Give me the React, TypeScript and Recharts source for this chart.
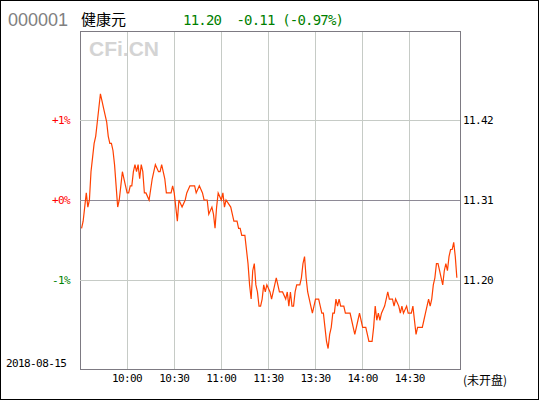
import { LineChart, Line, XAxis, YAxis, CartesianGrid, ReferenceLine, ReferenceArea } from 'recharts'

const prevClose = 11.31

// minute index from 9:30 (lunch break removed) and last price
const minutes = [
  1, 2, 3, 4, 5, 6, 7, 8, 9, 10, 11, 12, 13, 14, 15, 16, 17, 18, 19, 20,
  21, 22, 23, 24, 25, 26, 27, 28, 29, 30, 31, 32, 33, 34, 35, 36, 37, 38, 39, 40,
  41, 42, 44, 46, 47, 48, 50, 51, 52, 54, 55, 58, 59, 60, 61, 62, 63, 65, 67, 68,
  70, 73, 74, 76, 78, 79, 81, 82, 84, 85, 86, 87, 88, 90, 91, 92, 93, 96, 97, 98,
  100, 101, 102, 103, 105, 107, 108, 109, 110, 111, 112, 113, 114, 115, 116, 117, 118, 119, 121, 122,
  124, 125, 126, 127, 129, 131, 132, 133, 134, 135, 136, 137, 138, 140, 141, 142, 143, 144, 145, 147,
  148, 149, 150, 152, 153, 154, 155, 156, 157, 158, 159, 160, 161, 162, 163, 164, 165, 166, 168, 169,
  170, 172, 173, 174, 175, 176, 177, 178, 179, 180, 182, 183, 184, 186, 187, 188, 189, 190, 191, 192,
  194, 195, 196, 197, 199, 200, 201, 203, 204, 205, 206, 208, 209, 211, 212, 213, 214, 215, 218, 219,
  220, 221, 222, 223, 224, 225, 226, 227, 228, 229, 230, 231, 232, 233, 234, 235, 236, 237, 238, 239,
  240,
]
const prices = [
  11.27, 11.28, 11.30, 11.32, 11.30, 11.31, 11.35, 11.37, 11.39, 11.40, 11.42, 11.44, 11.46, 11.45, 11.44, 11.43, 11.42, 11.40, 11.39, 11.39,
  11.38, 11.36, 11.33, 11.30, 11.31, 11.33, 11.35, 11.34, 11.33, 11.32, 11.32, 11.33, 11.33, 11.35, 11.36, 11.35, 11.36, 11.34, 11.36, 11.35,
  11.32, 11.32, 11.31, 11.34, 11.35, 11.36, 11.35, 11.35, 11.36, 11.34, 11.32, 11.32, 11.33, 11.32, 11.30, 11.28, 11.31, 11.30, 11.31, 11.32,
  11.33, 11.33, 11.32, 11.33, 11.32, 11.31, 11.31, 11.29, 11.30, 11.29, 11.27, 11.30, 11.32, 11.31, 11.32, 11.30, 11.31, 11.30, 11.29, 11.28,
  11.28, 11.27, 11.27, 11.26, 11.26, 11.22, 11.19, 11.17, 11.21, 11.22, 11.19, 11.18, 11.16, 11.16, 11.17, 11.19, 11.18, 11.19, 11.18, 11.17,
  11.19, 11.20, 11.19, 11.18, 11.18, 11.17, 11.18, 11.16, 11.18, 11.16, 11.16, 11.18, 11.19, 11.19, 11.20, 11.22, 11.23, 11.20, 11.18, 11.16,
  11.15, 11.16, 11.17, 11.17, 11.16, 11.15, 11.15, 11.13, 11.11, 11.10, 11.12, 11.13, 11.15, 11.15, 11.17, 11.16, 11.17, 11.16, 11.16, 11.15,
  11.15, 11.15, 11.14, 11.13, 11.12, 11.13, 11.14, 11.15, 11.14, 11.13, 11.13, 11.12, 11.11, 11.11, 11.13, 11.16, 11.14, 11.15, 11.14, 11.15,
  11.16, 11.17, 11.18, 11.17, 11.17, 11.16, 11.17, 11.16, 11.15, 11.16, 11.15, 11.16, 11.15, 11.15, 11.16, 11.14, 11.12, 11.13, 11.13, 11.14,
  11.15, 11.16, 11.17, 11.16, 11.17, 11.19, 11.20, 11.22, 11.22, 11.21, 11.20, 11.19, 11.21, 11.22, 11.21, 11.23, 11.24, 11.24, 11.25, 11.23,
  11.20,
]

const timeTicks = [30, 60, 90, 120, 150, 180, 210]
const timeLabels = ['10:00', '10:30', '11:00', '11:30', '13:30', '14:00', '14:30']
const pctTicks = [-1, 0, 1]
const pctLabels = ['-1%', '+0%', '+1%']

const data = minutes.map((m, i) => ({ m, pct: (prices[i] / prevClose - 1) * 100 }))
const yMax = 2.1125
const mono = 'DejaVu Sans Mono, monospace'
const tickFont = { fontSize: 11, fontFamily: mono, letterSpacing: -0.6 }

function PctTick({ x, y, payload }: any) {
  const i = pctTicks.indexOf(payload.value)
  return (
    <text x={x} y={y} dy="0.355em" textAnchor="end" {...tickFont}
      fill={payload.value < 0 ? '#008000' : '#ff0000'}>
      {pctLabels[i]}
    </text>
  )
}

export default function App() {
  return (
    <div style={{ position: 'fixed', left: 0, top: 0, width: 540, height: 400, background: '#fff' }}>
      <div style={{ position: 'absolute', left: 0, top: 0, width: 539, height: 400, border: '1px solid #000', boxSizing: 'border-box' }} />
      <svg width={540} height={400} style={{ position: 'absolute', left: 0, top: 0 }}>
        <text x={8} y={26} fontSize={18} fontFamily="Liberation Sans, Arial" fill="#808080">000001</text>
        <text x={81} y={25} fontSize={15} fontFamily="Noto Sans CJK SC" fill="#000">健康元</text>
        <text x={183} y={25} fontSize={14} letterSpacing={-0.8} fontFamily={mono} fill="#008000" xmlSpace="preserve">11.20  -0.11 (-0.97%)</text>
        <text x={89} y={56} fontSize={21} fontWeight="bold" fontFamily="Liberation Sans, Arial" fill="#d4d4d4">CFi.CN</text>
        <text x={6} y={367} {...tickFont} fill="#000">2018-08-15</text>
        <text x={463} y={385} fontSize={12} fontFamily="Noto Sans CJK SC" fill="#000">(未开盘)</text>
      </svg>
      <div style={{ position: 'absolute', left: 0, top: 0 }}>
        <LineChart width={540} height={400} data={data} margin={{ top: 31, right: 0, bottom: 0, left: 0 }}>
          <CartesianGrid horizontal={false} stroke="#c6cbc6" shapeRendering="crispEdges" />
          <XAxis type="number" dataKey="m" domain={[0, 242]} ticks={timeTicks} interval={0} height={31}
            axisLine={false} tickLine={false} tickSize={0} tickMargin={5}
            tickFormatter={(v: number) => timeLabels[timeTicks.indexOf(v)]}
            tick={{ fill: '#000', ...tickFont }} />
          <YAxis yAxisId="l" orientation="left" width={80} domain={[-yMax, yMax]} ticks={pctTicks} allowDataOverflow
            axisLine={false} tickLine={false} tickSize={0} tickMargin={10} tick={<PctTick />} />
          <YAxis yAxisId="r" orientation="right" width={80} domain={[-yMax, yMax]} ticks={pctTicks} allowDataOverflow
            axisLine={false} tickLine={false} tickSize={0} tickMargin={3}
            tickFormatter={(v: number) => (prevClose * (1 + v / 100)).toFixed(2)}
            tick={{ fill: '#000', ...tickFont }} />
          <ReferenceLine yAxisId="l" y={1} stroke="#c6cbc6" shapeRendering="crispEdges" />
          <ReferenceLine yAxisId="l" y={-1} stroke="#c6cbc6" shapeRendering="crispEdges" />
          <ReferenceLine yAxisId="l" y={0} stroke="#8e8a96" shapeRendering="crispEdges" />
          <Line yAxisId="l" type="linear" dataKey="pct" stroke="#ff4000" strokeWidth={1.2} dot={false} isAnimationActive={false} />
          <ReferenceArea yAxisId="l" x1={0} x2={242} y1={-yMax} y2={yMax} fill="none" stroke="#7d7a82" shapeRendering="crispEdges" ifOverflow="visible" />
        </LineChart>
      </div>
    </div>
  )
}
